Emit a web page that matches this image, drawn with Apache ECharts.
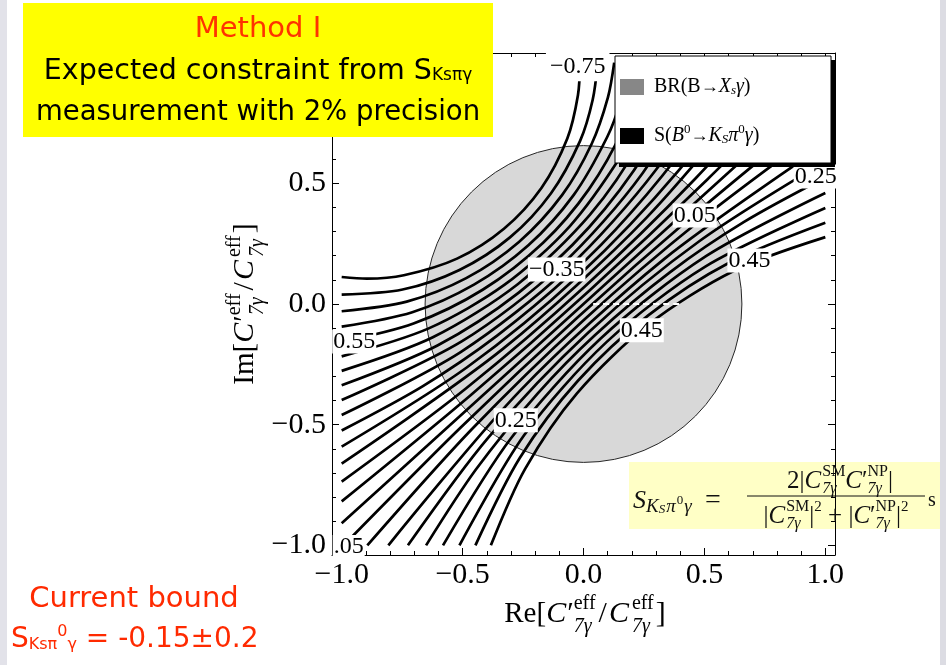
<!DOCTYPE html>
<html>
<head>
<meta charset="utf-8">
<script src="https://cdn.jsdelivr.net/npm/echarts@6.0.0/dist/echarts.min.js"></script>
<style>
html,body{margin:0;padding:0;background:#ffffff;}
#chart{width:946px;height:665px;}
</style>
</head>
<body>
<div id="chart"></div>
<script>
// ---------------- data ----------------
const axisRange = [-1.04, 1.04];
const majorTicks = [-1, -0.5, 0, 0.5, 1];
const majorTickLabels = ['−1.0', '−0.5', '0.0', '0.5', '1.0'];
const minorTicks = [-1, -0.9, -0.8, -0.7, -0.6, -0.5, -0.4, -0.3, -0.2, -0.1, 0,
                    0.1, 0.2, 0.3, 0.4, 0.5, 0.6, 0.7, 0.8, 0.9, 1];

// BR(B→Xsγ) allowed disc: centre x, centre y, radius
const brDisc = [0, 0, 0.655];

// S(B0→KSπ0γ) contour lines, levels −0.75 … 0.45 in steps of 0.05
const contourLevels = [-0.75, -0.70, -0.65, -0.60, -0.55, -0.50, -0.45, -0.40, -0.35, -0.30,
                       -0.25, -0.20, -0.15, -0.10, -0.05, 0, 0.05, 0.10, 0.15, 0.20, 0.25,
                       0.30, 0.35, 0.40, 0.45];
const cM075 = [[-1,0.112],[-0.896,0.105],[-0.743,0.119],[-0.523,0.188],[-0.329,0.312],[-0.174,0.481],[-0.067,0.686],[-0.023,0.865],[-0.014,1.0]];
const cM070 = [[-1,0.039],[-0.748,0.060],[-0.513,0.141],[-0.304,0.276],[-0.135,0.458],[-0.014,0.676],[0.038,0.846],[0.059,1.0]];
const cM065 = [[-1,-0.030],[-0.731,0.010],[-0.485,0.107],[-0.267,0.257],[-0.088,0.452],[0.034,0.664],[0.101,0.856],[0.127,1.0]];
const cM060 = [[-1,-0.094],[-0.708,-0.034],[-0.453,0.080],[-0.228,0.243],[-0.041,0.451],[0.098,0.692],[0.155,0.844],[0.193,1.0]];
const cM055 = [[-1,-0.156],[-0.703,-0.081],[-0.417,0.059],[-0.167,0.254],[0.022,0.475],[0.165,0.729],[0.257,1.0]];
const cM050 = [[-1,-0.217],[-0.640,-0.101],[-0.326,0.080],[-0.057,0.322],[0.156,0.615],[0.250,0.804],[0.320,1.0]];
const cM045 = [[-1,-0.277],[-0.623,-0.138],[-0.272,0.082],[0.027,0.370],[0.242,0.684],[0.383,1.0]];
const cM040 = [[-1,-0.337],[-0.604,-0.172],[-0.269,0.046],[0.023,0.318],[0.263,0.637],[0.447,1.0]];
const cM035 = [[-1,-0.398],[-0.502,-0.154],[-0.095,0.158],[0.245,0.543],[0.513,1.0]];
const cM030 = [[-1,-0.460],[-0.508,-0.199],[-0.071,0.143],[0.299,0.555],[0.581,1.0]];
const cM025 = [[-1,-0.524],[-0.664,-0.340],[-0.357,-0.131],[-0.047,0.129],[0.190,0.371],[0.445,0.686],[0.651,1.0]];
const cM020 = [[-1,-0.591],[-0.480,-0.261],[-0.019,0.119],[0.393,0.553],[0.726,1.0]];
const cM015 = [[-1,-0.661],[-0.332,-0.185],[0.261,0.358],[0.807,1.0]];
const cM010 = [[-1,-0.736],[-0.485,-0.349],[0.002,0.069],[0.462,0.519],[0.894,1.0]];
const cM005 = [[-1,-0.818],[-0.468,-0.379],[0.025,0.056],[0.510,0.514],[0.992,1.0]];
const cZ000 = [[-1,-0.908],[0,0],[1,0.908]];
const cP005 = [[1,0.818],[0.468,0.379],[-0.025,-0.056],[-0.510,-0.514],[-0.992,-1.0]];
const cP010 = [[1,0.736],[0.485,0.349],[-0.002,-0.069],[-0.462,-0.519],[-0.894,-1.0]];
const cP015 = [[1,0.661],[0.332,0.185],[-0.261,-0.358],[-0.807,-1.0]];
const cP020 = [[1,0.591],[0.480,0.261],[0.019,-0.119],[-0.393,-0.553],[-0.726,-1.0]];
const cP025 = [[1,0.524],[0.664,0.340],[0.357,0.131],[0.047,-0.129],[-0.190,-0.371],[-0.445,-0.686],[-0.651,-1.0]];
const cP030 = [[1,0.460],[0.508,0.199],[0.071,-0.143],[-0.299,-0.555],[-0.581,-1.0]];
const cP035 = [[1,0.398],[0.502,0.154],[0.095,-0.158],[-0.245,-0.543],[-0.513,-1.0]];
const cP040 = [[1,0.337],[0.604,0.172],[0.269,-0.046],[-0.023,-0.318],[-0.263,-0.637],[-0.447,-1.0]];
const cP045 = [[1,0.277],[0.623,0.138],[0.272,-0.082],[-0.027,-0.370],[-0.242,-0.684],[-0.383,-1.0]];
const contours = [cM075,cM070,cM065,cM060,cM055,cM050,cM045,cM040,cM035,cM030,cM025,cM020,cM015,
                  cM010,cM005,cZ000,cP005,cP010,cP015,cP020,cP025,cP030,cP035,cP040,cP045];

// contour labels (as visible in the picture)
const labelX    = [-0.024, -0.111, 0.460, 0.686, 0.960, 0.241, -0.280, -0.948, -0.971];
const labelY    = [0.983, 0.143, 0.367, 0.180, 0.528, -0.109, -0.482, -0.155, -1.007];
const labelText = ['−0.75', '−0.35', '0.05', '0.45', '0.25', '0.45', '0.25', '0.55', '.05'];

// white dashed rendering artefact along Im = 0
const artefactSeg = [[0.04, 0], [0.40, 0]];

// ---------------- helpers ----------------
const SERIF = '"Liberation Serif", "Times New Roman", serif';
const SANS = '"DejaVu Sans", sans-serif';
const mctx = document.createElement('canvas').getContext('2d');
function fnt(size, it, fam) { return (it ? 'italic ' : '') + size + 'px ' + fam; }
function tw(t, f) { mctx.font = f; return mctx.measureText(t).width; }
function txt(x, y, text, font, fill, z) {
  return {type:'text', x:x, y:y, z:z, silent:true,
    style:{text:text, font:font, fill:fill, align:'left', verticalAlign:'middle',
           textAlign:'left', textVerticalAlign:'middle'}};
}
// tokens: {t,s,it,dy,gap} or {sup,sub,s,supDy,subDy,it2,gap}
function row(tokens, x0, y0, align, fam, fill, z) {
  const items = []; let w = 0;
  tokens.forEach(k => {
    if (k.t !== undefined) {
      const f = fnt(k.s, k.it, fam);
      items.push([w, k.dy || 0, k.t, f]);
      w += tw(k.t, f) + (k.gap || 0);
    } else {
      const f1 = fnt(k.s, false, fam), f2 = fnt(k.s, k.it2, fam);
      items.push([w, k.supDy, k.sup, f1]);
      items.push([w, k.subDy, k.sub, f2]);
      w += Math.max(tw(k.sup, f1), tw(k.sub, f2)) + (k.gap || 0);
    }
  });
  const st = align === 'center' ? x0 - w / 2 : (align === 'right' ? x0 - w : x0);
  return items.map(it => txt(st + it[0], y0 + it[1], it[2], it[3], fill, z));
}
function tickFmt(v) {
  for (let i = 0; i < majorTicks.length; i++) if (Math.abs(majorTicks[i] - v) < 1e-9) return majorTickLabels[i];
  return '';
}
function mkAxis(dim, pos, ticks, len, withLabels, withLine) {
  return {
    type:'value', min:axisRange[0], max:axisRange[1], position:pos,
    axisLine:{show:withLine, onZero:false, lineStyle:{color:'#000', width:1}},
    axisTick:{show:true, inside:true, length:len, customValues:ticks, lineStyle:{color:'#000', width:1}},
    axisLabel:{show:withLabels, customValues:majorTicks, formatter:tickFmt, margin: dim === 'x' ? 5 : 6,
               fontFamily:SERIF, fontSize:30, color:'#000'},
    splitLine:{show:false}, minorTick:{show:false}
  };
}

// ---------------- graphic (annotations) ----------------
const titleTokens = (first) => [
  {t:first, s:29}, {t:'C', s:30, it:true, gap:1}, {t:'′', s:30},
  {sup:'eff', sub:'7γ', s:20, supDy:-10, subDy:13, it2:true, gap:3},
  {t:'/', s:30, gap:2}, {t:'C', s:30, it:true, gap:3},
  {sup:'eff', sub:'7γ', s:20, supDy:-10, subDy:13, it2:true, gap:2},
  {t:']', s:30}
];

const g = [];
// slide edges
g.push({type:'rect', shape:{x:0, y:0, width:7, height:665}, style:{fill:'#e2e2e9'}, z:50, silent:true});
g.push({type:'rect', shape:{x:940, y:0, width:6, height:665}, style:{fill:'#dcdce3'}, z:50, silent:true});
// formula box (under the frame)
g.push({type:'rect', shape:{x:629, y:462, width:311, height:67}, style:{fill:'#ffffc6'}, z:-1, silent:true});
row([{t:'S', s:26, it:true}, {t:'K', s:19, it:true, dy:6}, {t:'S', s:13, it:true, dy:9, gap:1},
     {t:'π', s:19, it:true, dy:6, gap:1}, {t:'0', s:13, dy:0, gap:1}, {t:'γ', s:19, it:true, dy:6}],
    633, 501, 'left', SERIF, '#111', 60).forEach(e => g.push(e));
g.push(txt(705, 501, '=', fnt(28, false, SERIF), '#111', 60));
row([{t:'2|', s:25}, {t:'C', s:25, it:true, gap:1}, {sup:'SM', sub:'7γ', s:16, supDy:-9, subDy:8, it2:true},
     {t:'C', s:25, it:true}, {t:'′', s:25}, {sup:'NP', sub:'7γ', s:16, supDy:-9, subDy:8, it2:true}, {t:'|', s:25}],
    840, 481, 'center', SERIF, '#111', 60).forEach(e => g.push(e));
row([{t:'|', s:25}, {t:'C', s:25, it:true, gap:1}, {sup:'SM', sub:'7γ', s:16, supDy:-9, subDy:8, it2:true},
     {t:'|', s:25}, {t:'2', s:15, dy:-9}, {t:' + ', s:25}, {t:'|', s:25}, {t:'C', s:25, it:true},
     {t:'′', s:25}, {sup:'NP', sub:'7γ', s:16, supDy:-9, subDy:8, it2:true}, {t:'|', s:25}, {t:'2', s:15, dy:-9}],
    836, 516, 'center', SERIF, '#111', 60).forEach(e => g.push(e));
g.push({type:'line', shape:{x1:747, y1:496, x2:925, y2:496}, style:{stroke:'#111', lineWidth:1}, z:60, silent:true});
g.push(txt(928, 501, 's', fnt(20, false, SERIF), '#111', 60));

// legend box
g.push({type:'rect', shape:{x:619, y:60, width:216, height:107}, style:{fill:'#000'}, z:70, silent:true});
g.push({type:'rect', shape:{x:615, y:56, width:216, height:107}, style:{fill:'#fff', stroke:'#000', lineWidth:1}, z:71, silent:true});
g.push({type:'rect', shape:{x:620, y:79, width:24, height:16}, style:{fill:'#878787'}, z:72, silent:true});
g.push({type:'rect', shape:{x:620, y:128, width:24, height:16}, style:{fill:'#000'}, z:72, silent:true});
row([{t:'BR(B', s:20}, {t:'→', s:18}, {t:'X', s:20, it:true}, {t:'s', s:13, it:true, dy:4}, {t:'γ', s:20, it:true}, {t:')', s:20}],
    654, 87, 'left', SERIF, '#000', 72).forEach(e => g.push(e));
row([{t:'S(', s:20}, {t:'B', s:20, it:true}, {t:'0', s:13, dy:-6}, {t:'→', s:18}, {t:'K', s:20, it:true},
     {t:'S', s:13, it:true, dy:4}, {t:'π', s:20, it:true}, {t:'0', s:13, dy:-6}, {t:'γ', s:20, it:true}, {t:')', s:20}],
    654, 136, 'left', SERIF, '#000', 72).forEach(e => g.push(e));

// axis titles
row(titleTokens('Re['), 585, 614, 'center', SERIF, '#000', 40).forEach(e => g.push(e));
g.push({type:'group', x:245, y:304, rotation:Math.PI / 2, z:40,
        children: row(titleTokens('Im['), 0, 0, 'center', SERIF, '#000', 40)});

// yellow title box
g.push({type:'rect', shape:{x:23, y:3, width:470, height:134}, style:{fill:'#ffff00'}, z:80, silent:true});
row([{t:'Method I', s:29}], 258, 29, 'center', SANS, '#ff3300', 81).forEach(e => g.push(e));
row([{t:'Expected constraint from S', s:28.5}, {t:'Ksπγ', s:17, dy:4}], 258, 72, 'center', SANS, '#000', 81).forEach(e => g.push(e));
row([{t:'measurement with 2% precision', s:27.5}], 258, 113, 'center', SANS, '#000', 81).forEach(e => g.push(e));

// current bound (red)
row([{t:'Current bound', s:29}], 134, 599, 'center', SANS, '#ff2a00', 81).forEach(e => g.push(e));
row([{t:'S', s:28}, {t:'Ksπ', s:16, dy:5}, {t:'0', s:16, dy:-8}, {t:'γ', s:16, dy:5}, {t:' = -0.15±0.2', s:28}],
    11, 640, 'left', SANS, '#ff2a00', 81).forEach(e => g.push(e));

// ---------------- chart ----------------
const chart = echarts.init(document.getElementById('chart'), null, {renderer:'canvas'});

const series = [];
series.push({
  type:'custom', coordinateSystem:'cartesian2d', xAxisIndex:0, yAxisIndex:0,
  data:[brDisc], z:1, silent:true,
  renderItem:(params, api) => {
    const c = api.coord([api.value(0), api.value(1)]);
    const r = api.size([api.value(2), 0])[0];
    return {type:'circle', shape:{cx:c[0], cy:c[1], r:r},
            style:{fill:'#d8d8d8', stroke:'#262626', lineWidth:1}};
  }
});
contours.forEach((pts, i) => {
  series.push({type:'line', name:'S=' + contourLevels[i], data:pts, symbol:'none', showSymbol:false,
               smooth:0.3, clip:true, z:3, silent:true,
               lineStyle:{color:'#000', width:2.7}});
});
series.push({type:'line', data:artefactSeg, symbol:'none', z:4, silent:true,
             lineStyle:{color:'#fff', width:2, type:[6, 4]}});
series.push({
  type:'custom', coordinateSystem:'cartesian2d', xAxisIndex:0, yAxisIndex:0, z:5, silent:true, clip:false,
  data: labelX.map((x, i) => [x, labelY[i], i]),
  renderItem:(params, api) => {
    const p = api.coord([api.value(0), api.value(1)]);
    const idx = api.value(2);
    return {type:'text', x:p[0], y:p[1],
            style:{text:labelText[idx], font:'24px ' + SERIF, fill:'#000',
                   align:'center', verticalAlign:'middle', textAlign:'center', textVerticalAlign:'middle',
                   backgroundColor:'#fff', padding: idx === 0 ? [1, 4, 4, 4] : [0, 1]}};
  }
});

chart.setOption({
  animation:false,
  backgroundColor:'#ffffff',
  grid:{left:332, top:53, width:503, height:502, containLabel:false, outerBoundsMode:'none'},
  xAxis:[
    mkAxis('x', 'bottom', majorTicks, 7, true, true),
    mkAxis('x', 'bottom', minorTicks, 4, false, false),
    mkAxis('x', 'top', majorTicks, 7, false, true),
    mkAxis('x', 'top', minorTicks, 4, false, false)
  ],
  yAxis:[
    mkAxis('y', 'left', majorTicks, 7, true, true),
    mkAxis('y', 'left', minorTicks, 4, false, false),
    mkAxis('y', 'right', majorTicks, 7, false, true),
    mkAxis('y', 'right', minorTicks, 4, false, false)
  ],
  series:series,
  graphic:{elements:g}
});
</script>
</body>
</html>
